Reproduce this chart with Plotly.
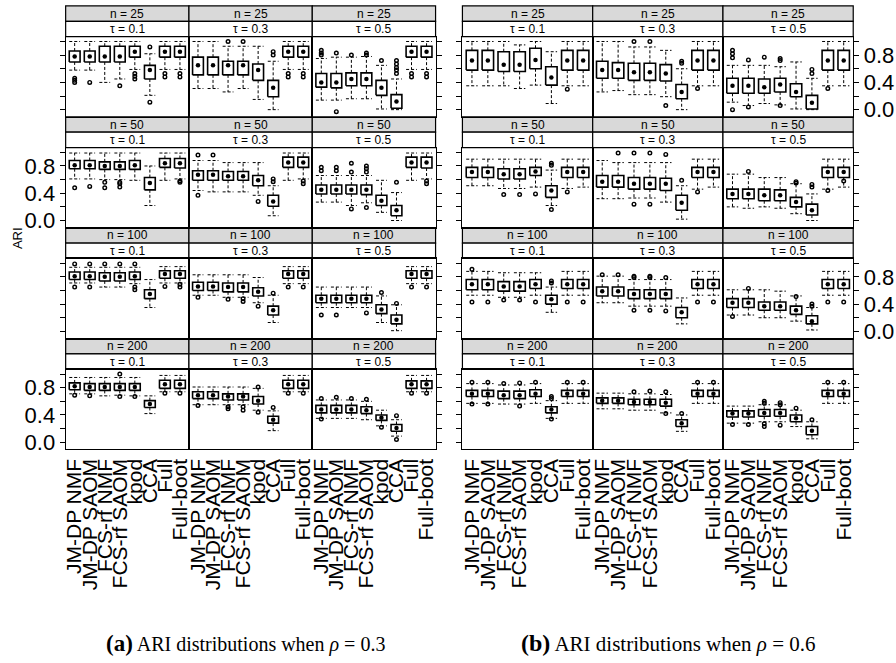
import plotly.graph_objects as go

# ---------------------------------------------------------------- data
METHODS = ["JM-DP NMF", "JM-DP SAOM", "FCS-rf NMF", "FCS-rf SAOM",
           "kpod", "CCA", "Full", "Full-boot"]
SAMPLE_SIZES = [25, 50, 100, 200]
TAUS = ["0.1", "0.3", "0.5"]
RHOS = ["0.3", "0.6"]

# Box-plot summaries of ARI, one row per facet, ordered
# (n=25: tau 0.1, 0.3, 0.5), (n=50: ...), (n=100: ...), (n=200: ...)

# ---- rho = 0.3
R03_Q1 = [
    [0.70, 0.70, 0.70, 0.70, 0.77, 0.45, 0.77, 0.77],
    [0.51, 0.51, 0.51, 0.51, 0.43, 0.19, 0.77, 0.77],
    [0.33, 0.32, 0.35, 0.35, 0.21, 0.02, 0.77, 0.77],
    [0.76, 0.76, 0.75, 0.75, 0.75, 0.45, 0.78, 0.77],
    [0.59, 0.59, 0.59, 0.59, 0.51, 0.21, 0.78, 0.78],
    [0.39, 0.39, 0.39, 0.38, 0.22, 0.07, 0.78, 0.77],
    [0.76, 0.76, 0.74, 0.74, 0.76, 0.48, 0.78, 0.78],
    [0.60, 0.60, 0.58, 0.58, 0.52, 0.24, 0.78, 0.78],
    [0.42, 0.42, 0.42, 0.42, 0.26, 0.11, 0.78, 0.78],
    [0.77, 0.76, 0.76, 0.76, 0.76, 0.51, 0.79, 0.79],
    [0.64, 0.64, 0.62, 0.62, 0.56, 0.28, 0.79, 0.79],
    [0.43, 0.43, 0.43, 0.42, 0.32, 0.16, 0.79, 0.79],
]
R03_MED = [
    [0.78, 0.78, 0.78, 0.78, 0.85, 0.58, 0.85, 0.85],
    [0.65, 0.65, 0.65, 0.65, 0.58, 0.32, 0.85, 0.85],
    [0.40, 0.40, 0.45, 0.45, 0.32, 0.12, 0.85, 0.85],
    [0.81, 0.81, 0.80, 0.80, 0.81, 0.55, 0.84, 0.84],
    [0.67, 0.67, 0.65, 0.65, 0.59, 0.28, 0.85, 0.85],
    [0.45, 0.45, 0.45, 0.45, 0.29, 0.15, 0.85, 0.85],
    [0.81, 0.81, 0.80, 0.80, 0.81, 0.55, 0.84, 0.84],
    [0.66, 0.66, 0.65, 0.65, 0.58, 0.31, 0.84, 0.84],
    [0.48, 0.48, 0.48, 0.48, 0.32, 0.17, 0.84, 0.84],
    [0.82, 0.81, 0.81, 0.81, 0.81, 0.56, 0.85, 0.85],
    [0.69, 0.69, 0.67, 0.67, 0.61, 0.33, 0.85, 0.85],
    [0.48, 0.48, 0.48, 0.47, 0.36, 0.21, 0.85, 0.85],
]
R03_Q3 = [
    [0.86, 0.86, 0.93, 0.93, 0.93, 0.65, 0.93, 0.93],
    [0.77, 0.77, 0.71, 0.71, 0.67, 0.43, 0.93, 0.93],
    [0.53, 0.53, 0.54, 0.54, 0.43, 0.22, 0.93, 0.93],
    [0.88, 0.88, 0.86, 0.86, 0.88, 0.63, 0.91, 0.91],
    [0.73, 0.73, 0.72, 0.72, 0.66, 0.37, 0.93, 0.93],
    [0.52, 0.52, 0.52, 0.52, 0.37, 0.22, 0.93, 0.93],
    [0.87, 0.87, 0.86, 0.86, 0.87, 0.61, 0.89, 0.89],
    [0.72, 0.72, 0.71, 0.71, 0.64, 0.37, 0.89, 0.89],
    [0.53, 0.53, 0.53, 0.53, 0.39, 0.24, 0.89, 0.89],
    [0.87, 0.86, 0.86, 0.86, 0.86, 0.61, 0.91, 0.91],
    [0.74, 0.74, 0.71, 0.71, 0.67, 0.38, 0.91, 0.91],
    [0.54, 0.54, 0.54, 0.52, 0.40, 0.26, 0.90, 0.90],
]
R03_LO = [
    [0.58, 0.58, 0.40, 0.45, 0.59, 0.21, 0.59, 0.59],
    [0.31, 0.31, 0.26, 0.31, 0.15, 0.00, 0.59, 0.59],
    [0.14, 0.14, 0.16, 0.16, 0.01, 0.00, 0.59, 0.59],
    [0.61, 0.61, 0.60, 0.60, 0.59, 0.22, 0.59, 0.61],
    [0.44, 0.42, 0.42, 0.42, 0.37, 0.07, 0.59, 0.61],
    [0.27, 0.27, 0.22, 0.26, 0.12, 0.00, 0.59, 0.61],
    [0.71, 0.71, 0.65, 0.65, 0.70, 0.35, 0.71, 0.71],
    [0.53, 0.53, 0.50, 0.50, 0.42, 0.13, 0.70, 0.70],
    [0.35, 0.35, 0.35, 0.35, 0.13, 0.01, 0.70, 0.70],
    [0.71, 0.71, 0.68, 0.69, 0.68, 0.42, 0.74, 0.74],
    [0.55, 0.55, 0.55, 0.55, 0.47, 0.17, 0.74, 0.74],
    [0.35, 0.35, 0.35, 0.33, 0.24, 0.09, 0.74, 0.74],
]
R03_HI = [
    [1.00, 1.00, 1.00, 1.00, 1.00, 0.82, 1.00, 1.00],
    [1.00, 1.00, 0.93, 0.93, 0.93, 0.71, 1.00, 1.00],
    [0.75, 0.77, 0.77, 0.78, 0.65, 0.45, 1.00, 1.00],
    [0.99, 0.99, 0.99, 0.99, 0.99, 0.80, 0.99, 0.99],
    [0.88, 0.88, 0.85, 0.85, 0.85, 0.51, 0.99, 0.99],
    [0.66, 0.66, 0.66, 0.66, 0.59, 0.41, 0.99, 0.99],
    [0.94, 0.94, 0.94, 0.94, 0.94, 0.76, 0.95, 0.95],
    [0.83, 0.83, 0.83, 0.83, 0.79, 0.53, 0.95, 0.95],
    [0.65, 0.65, 0.65, 0.65, 0.52, 0.39, 0.95, 0.95],
    [0.95, 0.95, 0.95, 0.95, 0.95, 0.68, 0.98, 0.98],
    [0.81, 0.81, 0.81, 0.81, 0.79, 0.46, 0.98, 0.98],
    [0.62, 0.62, 0.62, 0.60, 0.47, 0.33, 0.98, 0.98],
]
R03_OUT = [
    [[0.46, 0.43, 0.40], [0.40], [], [0.35], [0.53, 0.49, 0.45], [0.92, 0.11], [0.53, 0.48], [0.53, 0.48]],
    [[], [], [1.00], [1.00], [], [0.85, 0.80], [0.53, 0.48], [0.53, 0.48]],
    [[0.87, 0.83, 0.80], [0.83, -0.03], [0.80], [0.83, 0.80], [0.72], [0.72, 0.67, 0.62, 0.58, 0.53], [0.53, 0.48], [0.53, 0.48]],
    [[0.48], [0.50], [0.56, 0.48], [0.56, 0.54, 0.49], [], [], [], [0.58, 0.56]],
    [[0.96, 0.37], [0.96], [], [], [0.28], [0.61, 0.57], [], [0.58, 0.54]],
    [[0.78, 0.73], [0.78, 0.73], [0.84, 0.71, 0.17], [0.80, 0.76, 0.71, 0.19], [], [0.56], [], [0.58, 0.54]],
    [[0.99, 0.65], [0.99, 0.65], [0.99], [0.99], [0.99, 0.65, 0.61], [], [0.66], [0.69, 0.65]],
    [[0.50], [], [0.47], [0.48, 0.44], [0.37], [0.56], [0.65], [0.65]],
    [[0.24], [0.24], [], [0.27], [0.57], [0.41], [0.65], [0.65]],
    [[0.69], [0.68], [], [1.00, 0.67], [0.67], [], [0.72], [0.72]],
    [[0.54], [], [0.52, 0.49], [0.52, 0.47], [0.81, 0.44], [0.51], [0.72], [0.72]],
    [[0.64, 0.34], [0.66], [0.64], [0.63], [0.22], [0.39, 0.04], [0.72], [0.72]],
]

# ---- rho = 0.6
R06_Q1 = [
    [0.58, 0.58, 0.56, 0.56, 0.60, 0.36, 0.58, 0.58],
    [0.46, 0.46, 0.43, 0.43, 0.42, 0.16, 0.58, 0.58],
    [0.24, 0.24, 0.24, 0.26, 0.19, 0.01, 0.58, 0.58],
    [0.63, 0.63, 0.61, 0.61, 0.66, 0.34, 0.63, 0.63],
    [0.49, 0.49, 0.46, 0.46, 0.44, 0.15, 0.63, 0.63],
    [0.32, 0.32, 0.29, 0.29, 0.20, 0.08, 0.63, 0.63],
    [0.61, 0.61, 0.59, 0.59, 0.63, 0.40, 0.63, 0.63],
    [0.52, 0.52, 0.48, 0.48, 0.48, 0.20, 0.63, 0.63],
    [0.35, 0.35, 0.31, 0.31, 0.25, 0.11, 0.63, 0.63],
    [0.67, 0.67, 0.64, 0.64, 0.67, 0.43, 0.67, 0.67],
    [0.57, 0.57, 0.55, 0.55, 0.53, 0.23, 0.67, 0.67],
    [0.37, 0.37, 0.38, 0.38, 0.30, 0.11, 0.67, 0.67],
]
R06_MED = [
    [0.72, 0.72, 0.66, 0.66, 0.73, 0.47, 0.72, 0.72],
    [0.58, 0.58, 0.55, 0.55, 0.53, 0.26, 0.72, 0.72],
    [0.35, 0.35, 0.33, 0.37, 0.26, 0.10, 0.72, 0.72],
    [0.71, 0.71, 0.68, 0.68, 0.72, 0.44, 0.71, 0.71],
    [0.57, 0.57, 0.54, 0.54, 0.54, 0.26, 0.71, 0.71],
    [0.39, 0.39, 0.37, 0.37, 0.27, 0.15, 0.71, 0.71],
    [0.69, 0.69, 0.66, 0.66, 0.69, 0.47, 0.69, 0.69],
    [0.59, 0.59, 0.55, 0.55, 0.55, 0.28, 0.69, 0.69],
    [0.42, 0.42, 0.37, 0.37, 0.31, 0.15, 0.69, 0.69],
    [0.71, 0.71, 0.69, 0.69, 0.71, 0.48, 0.71, 0.71],
    [0.61, 0.61, 0.59, 0.59, 0.58, 0.28, 0.71, 0.71],
    [0.42, 0.42, 0.43, 0.43, 0.35, 0.17, 0.71, 0.71],
]
R06_Q3 = [
    [0.87, 0.87, 0.85, 0.85, 0.90, 0.63, 0.87, 0.87],
    [0.71, 0.69, 0.68, 0.68, 0.66, 0.37, 0.87, 0.87],
    [0.46, 0.46, 0.45, 0.46, 0.38, 0.21, 0.87, 0.87],
    [0.78, 0.78, 0.76, 0.76, 0.78, 0.51, 0.78, 0.78],
    [0.66, 0.66, 0.63, 0.63, 0.62, 0.37, 0.78, 0.78],
    [0.46, 0.46, 0.46, 0.45, 0.34, 0.24, 0.78, 0.78],
    [0.76, 0.76, 0.73, 0.73, 0.76, 0.53, 0.76, 0.76],
    [0.65, 0.65, 0.61, 0.61, 0.61, 0.35, 0.76, 0.76],
    [0.48, 0.48, 0.43, 0.43, 0.37, 0.23, 0.76, 0.76],
    [0.76, 0.76, 0.75, 0.75, 0.77, 0.52, 0.76, 0.76],
    [0.65, 0.65, 0.63, 0.63, 0.63, 0.33, 0.76, 0.76],
    [0.46, 0.46, 0.48, 0.48, 0.40, 0.23, 0.76, 0.76],
]
R06_LO = [
    [0.35, 0.35, 0.35, 0.31, 0.36, 0.09, 0.35, 0.35],
    [0.26, 0.28, 0.22, 0.22, 0.19, 0.00, 0.35, 0.35],
    [0.11, 0.06, 0.09, 0.07, 0.01, 0.00, 0.35, 0.35],
    [0.51, 0.51, 0.47, 0.47, 0.49, 0.22, 0.47, 0.49],
    [0.32, 0.32, 0.33, 0.33, 0.27, 0.02, 0.46, 0.49],
    [0.20, 0.18, 0.20, 0.18, 0.10, 0.00, 0.46, 0.49],
    [0.53, 0.53, 0.50, 0.50, 0.53, 0.28, 0.53, 0.53],
    [0.42, 0.42, 0.37, 0.37, 0.37, 0.11, 0.53, 0.53],
    [0.24, 0.24, 0.20, 0.20, 0.15, 0.02, 0.53, 0.53],
    [0.57, 0.57, 0.56, 0.56, 0.57, 0.35, 0.57, 0.57],
    [0.49, 0.49, 0.47, 0.47, 0.43, 0.16, 0.57, 0.57],
    [0.28, 0.28, 0.30, 0.30, 0.23, 0.05, 0.57, 0.57],
]
R06_HI = [
    [1.00, 1.00, 1.00, 0.95, 1.00, 0.85, 1.00, 1.00],
    [1.00, 1.00, 0.92, 0.92, 0.87, 0.60, 1.00, 1.00],
    [0.65, 0.65, 0.65, 0.63, 0.70, 0.46, 1.00, 1.00],
    [0.90, 0.90, 0.90, 0.90, 0.90, 0.74, 0.90, 0.90],
    [0.88, 0.85, 0.85, 0.85, 0.85, 0.51, 0.90, 0.90],
    [0.68, 0.68, 0.63, 0.63, 0.54, 0.39, 0.90, 0.90],
    [0.88, 0.88, 0.86, 0.86, 0.86, 0.65, 0.88, 0.88],
    [0.81, 0.81, 0.76, 0.76, 0.76, 0.49, 0.88, 0.88],
    [0.61, 0.61, 0.61, 0.59, 0.52, 0.35, 0.88, 0.88],
    [0.86, 0.86, 0.84, 0.84, 0.86, 0.61, 0.86, 0.86],
    [0.72, 0.72, 0.71, 0.71, 0.70, 0.40, 0.86, 0.86],
    [0.53, 0.53, 0.55, 0.55, 0.47, 0.30, 0.86, 0.86],
]
R06_OUT = [
    [[], [], [], [], [], [], [0.30], []],
    [[], [], [1.00], [1.00], [0.06], [0.71, 0.68], [0.31], []],
    [[0.87, 0.82, 0.76, 0.00], [0.73, 0.04], [0.77], [0.75, 0.72, 0.06], [], [0.59, 0.53], [0.31], []],
    [[], [], [0.38], [0.38], [0.39], [0.84, 0.81, 0.16], [0.42], []],
    [[], [0.99], [0.99, 0.24], [0.99, 0.24], [0.97], [0.59], [0.42], []],
    [[], [0.72], [], [], [0.57, 0.55], [0.53, 0.49], [0.44], [0.58]],
    [[0.91, 0.43], [0.43], [0.46], [0.46], [0.43], [0.74, 0.71], [0.43], [0.43]],
    [[0.83], [0.83], [0.81, 0.79, 0.31], [0.81, 0.79, 0.31], [0.79, 0.30], [], [0.43], [0.43]],
    [[0.22], [0.63], [], [], [0.51], [0.40, 0.37], [0.43], [0.43]],
    [[0.88, 0.56], [0.88, 0.56], [0.86], [0.87, 0.53], [0.88], [0.67, 0.64, 0.34], [0.88], [0.88]],
    [[], [], [0.74], [0.75], [0.74, 0.42], [0.42], [0.88], [0.88]],
    [[0.26], [0.26], [0.60, 0.57, 0.27, 0.23], [0.58, 0.55, 0.25], [0.50], [0.33], [0.88], [0.88]],
]

PANEL_STATS = [
    dict(q1=R03_Q1, med=R03_MED, q3=R03_Q3, lo=R03_LO, hi=R03_HI, out=R03_OUT),
    dict(q1=R06_Q1, med=R06_MED, q3=R06_Q3, lo=R06_LO, hi=R06_HI, out=R06_OUT),
]

# ---------------------------------------------------------------- layout geometry (pixels)
W, H = 896, 663
COL_EDGES = [[63, 187, 311, 435], [462, 593, 724, 855]]
TOP = 6.0
ROW_STEP = 111.7
STRIP_H = 15.5
HALF_BOX = 0.36

SANS = "Liberation Sans Narrow, Arial Narrow, Liberation Sans, Arial, sans-serif"
SANS_WIDE = "Liberation Sans, Arial, Helvetica, sans-serif"
SERIF = "Liberation Serif, Times New Roman, serif"
STRIP_GREY = "#d9d9d9"

Y_TICKS = [0.0, 0.2, 0.4, 0.6, 0.8, 1.0]
Y_TEXT = ["0.0", "", "0.4", "", "0.8", ""]


def px_x(v):
    return v / W


def px_y(v):
    return 1 - v / H


fig = go.Figure()
layout = {}
shapes = []
annotations = []

for p, stats in enumerate(PANEL_STATS):
    edges = COL_EDGES[p]
    for r, n in enumerate(SAMPLE_SIZES):
        strip_top = TOP + r * ROW_STEP
        plot_top = strip_top + 2 * STRIP_H
        plot_bot = strip_top + ROW_STEP
        for c, tau in enumerate(TAUS):
            f = r * 3 + c
            k = p * 12 + f + 1
            xa = "x" if k == 1 else f"x{k}"
            ya = "y" if k == 1 else f"y{k}"
            x0, x1 = edges[c], edges[c + 1]

            q1, med, q3 = stats["q1"][f], stats["med"][f], stats["q3"][f]
            lo, hi, out = stats["lo"][f], stats["hi"][f], stats["out"][f]
            pos = list(range(1, len(METHODS) + 1))

            # dashed whiskers and their end caps
            wx, wy = [], []
            for i, x in enumerate(pos):
                wx += [x, x, None, x, x, None,
                       x - HALF_BOX, x + HALF_BOX, None, x - HALF_BOX, x + HALF_BOX, None]
                wy += [q3[i], hi[i], None, q1[i], lo[i], None,
                       hi[i], hi[i], None, lo[i], lo[i], None]
            fig.add_trace(go.Scatter(x=wx, y=wy, mode="lines", xaxis=xa, yaxis=ya,
                                     line=dict(color="black", width=1, dash="3px,2px"),
                                     hoverinfo="skip", showlegend=False))

            # boxes spanning the quartiles
            bx, by = [], []
            for i, x in enumerate(pos):
                bx += [x - HALF_BOX, x + HALF_BOX, x + HALF_BOX, x - HALF_BOX, x - HALF_BOX, None]
                by += [q1[i], q1[i], q3[i], q3[i], q1[i], None]
            fig.add_trace(go.Scatter(x=bx, y=by, mode="lines", xaxis=xa, yaxis=ya,
                                     line=dict(color="black", width=1.6),
                                     hoverinfo="skip", showlegend=False))

            # median dots
            fig.add_trace(go.Scatter(x=pos, y=med, mode="markers", xaxis=xa, yaxis=ya,
                                     marker=dict(color="black", size=4.5),
                                     hoverinfo="skip", showlegend=False))

            # outliers
            ox, oy = [], []
            for i, x in enumerate(pos):
                ox += [x] * len(out[i])
                oy += out[i]
            fig.add_trace(go.Scatter(x=ox, y=oy, mode="markers", xaxis=xa, yaxis=ya,
                                     marker=dict(symbol="circle-open", color="black", size=3.6,
                                                 line=dict(width=1.4)),
                                     hoverinfo="skip", showlegend=False))

            # axes
            xname = "xaxis" if k == 1 else f"xaxis{k}"
            yname = "yaxis" if k == 1 else f"yaxis{k}"
            layout[xname] = dict(
                domain=[px_x(x0), px_x(x1)], range=[0.4, 8.6], anchor=ya,
                showline=True, mirror=True, linecolor="black", linewidth=1.2,
                showgrid=False, zeroline=False, ticks="",
                tickmode="array", tickvals=pos, ticktext=METHODS,
                showticklabels=(r == 3), tickangle=-90,
                tickfont=dict(family=SANS_WIDE, size=21, color="black"),
            )
            if p == 0:
                show_lab = (c == 0 and r % 2 == 1)
            else:
                show_lab = (c == 2 and r % 2 == 0)
            layout[yname] = dict(
                domain=[px_y(plot_bot), px_y(plot_top)], range=[-0.105, 1.07], anchor=xa,
                showline=True, mirror=True, linecolor="black", linewidth=1.2,
                showgrid=False, zeroline=False,
                side="right" if c == 2 else "left",
                ticks="outside" if c in (0, 2) else "", ticklen=5, tickcolor="black",
                tickmode="array", tickvals=Y_TICKS, ticktext=Y_TEXT,
                showticklabels=show_lab,
                tickfont=dict(family=SANS, size=22, color="black"),
            )

            # two-level strip: sample size (grey) over tau (white)
            for s, (fill, label) in enumerate([(STRIP_GREY, f"n = {n}"),
                                               ("white", f"τ = {tau}")]):
                y_top = strip_top + s * STRIP_H
                y_bot = y_top + STRIP_H
                shapes.append(dict(type="rect", xref="paper", yref="paper",
                                   x0=px_x(x0), x1=px_x(x1), y0=px_y(y_bot), y1=px_y(y_top),
                                   fillcolor=fill, line=dict(color="black", width=1.2),
                                   layer="below"))
                annotations.append(dict(xref="paper", yref="paper",
                                        x=px_x((x0 + x1) / 2), y=px_y((y_top + y_bot) / 2),
                                        text=label, showarrow=False,
                                        xanchor="center", yanchor="middle",
                                        font=dict(family=SANS, size=12, color="black")))

annotations.append(dict(xref="paper", yref="paper", x=px_x(14), y=px_y(240),
                        text="ARI", textangle=-90, showarrow=False,
                        xanchor="center", yanchor="middle",
                        font=dict(family=SANS_WIDE, size=13, color="black")))

for label, rho, cx, size in [("(a)", RHOS[0], 244, 20), ("(b)", RHOS[1], 669, 21)]:
    annotations.append(dict(
        xref="paper", yref="paper", x=px_x(cx), y=px_y(648),
        text=(f"<span style='font-size:{size + 3}px'><b>{label}</b></span> "
              f"ARI distributions when <i>ρ</i> = {rho}"),
        showarrow=False, xanchor="center", yanchor="middle",
        font=dict(family=SERIF, size=size, color="black")))

fig.update_layout(
    width=W, height=H, autosize=False,
    margin=dict(l=0, r=0, t=0, b=0),
    paper_bgcolor="white", plot_bgcolor="white",
    shapes=shapes, annotations=annotations,
    **layout,
)

fig.write_html("out.html")
